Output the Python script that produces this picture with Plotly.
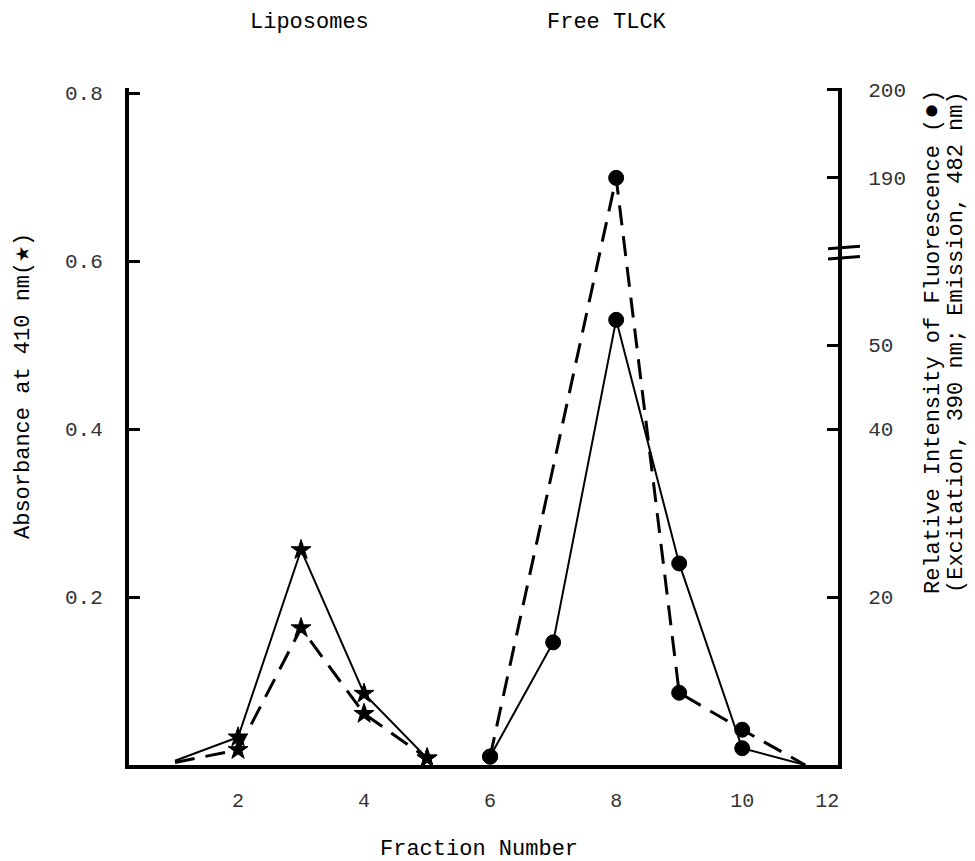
import plotly.graph_objects as go

# ---------------- data ----------------
fractions_star = [1, 2, 3, 4, 5]
abs_solid = [0.005, 0.033, 0.256, 0.085, 0.008]
abs_dashed = [0.003, 0.018, 0.163, 0.061, 0.008]

fractions_fl_solid = [6, 7, 8, 9, 10, 11]
fl_solid = [1, 14.6, 53, 24, 2, 0]
fractions_fl_dashed = [6, 8, 9, 10, 11]
fl_dashed = [1, 190, 8.6, 4.2, 0]

x_tick_text = ["2", "4", "6", "8", "10", "12"]
x_tick_vals = [2, 4, 6, 8, 10, 11.35]
left_tick_vals = [0.2, 0.4, 0.6, 0.8]
left_tick_text = ["0.2", "0.4", "0.6", "0.8"]
right_tick_vals = [20, 40, 50, 190, 200]
right_tick_text = ["20", "40", "50", "190", "200"]

# broken right axis: lower segment linear, upper segment (190-200) shifted down
BREAK_LIMIT = 60
UPPER_BASE = 190
UPPER_BASE_POS = 69.9
UPPER_SCALE = 1.048
BREAK_MARK = 61.0


def fl_axis(v):
    return v if v <= BREAK_LIMIT else UPPER_BASE_POS + (v - UPPER_BASE) * UPPER_SCALE


FONT = "Liberation Mono, Courier New, monospace"

STAR = dict(symbol="star", color="black", opacity=1, line=dict(color="black", width=1))
CIRC = dict(symbol="circle", color="black", opacity=1, line=dict(color="black", width=1))

fig = go.Figure()

# absorbance (stars)
fig.add_trace(go.Scatter(
    x=fractions_star, y=abs_solid, mode="lines+markers",
    line=dict(color="black", width=2),
    marker=dict(size=[0, 15, 15, 15, 15], **STAR),
    yaxis="y", showlegend=False))
fig.add_trace(go.Scatter(
    x=fractions_star, y=abs_dashed, mode="lines+markers",
    line=dict(color="black", width=3, dash="20px,11px"),
    marker=dict(size=[0, 15, 15, 15, 15], **STAR),
    yaxis="y", showlegend=False))

# fluorescence (circles)
fig.add_trace(go.Scatter(
    x=fractions_fl_solid, y=[fl_axis(v) for v in fl_solid], mode="lines+markers",
    line=dict(color="black", width=2),
    marker=dict(size=[15, 15, 15, 15, 15, 0], **CIRC),
    yaxis="y2", showlegend=False))
fig.add_trace(go.Scatter(
    x=fractions_fl_dashed, y=[fl_axis(v) for v in fl_dashed], mode="lines+markers",
    line=dict(color="black", width=3, dash="20px,11px"),
    marker=dict(size=[15, 15, 15, 15, 0], **CIRC),
    yaxis="y2", showlegend=False))

fig.update_layout(
    width=975, height=861,
    margin=dict(l=129, r=137, t=88, b=96),
    paper_bgcolor="white", plot_bgcolor="white",
    font=dict(family=FONT, color="black"),
    xaxis=dict(
        range=[0.27, 11.52], showgrid=False, zeroline=False,
        showline=True, linecolor="black", linewidth=4,
        tickmode="array", tickvals=x_tick_vals, ticktext=x_tick_text,
        ticks="", ticklabelstandoff=14,
        tickfont=dict(family=FONT, size=20, color="#333")),
    yaxis=dict(
        range=[0, 0.806], showgrid=False, zeroline=False,
        showline=True, linecolor="black", linewidth=4,
        tickmode="array", tickvals=left_tick_vals, ticktext=left_tick_text,
        ticks="inside", ticklen=11, tickwidth=3, tickcolor="black",
        ticklabelstandoff=18,
        tickfont=dict(family=FONT, size=21, color="#333")),
    yaxis2=dict(
        range=[0, 80.6], overlaying="y", side="right",
        showgrid=False, zeroline=False,
        showline=True, linecolor="black", linewidth=4,
        tickmode="array", tickvals=[fl_axis(v) for v in right_tick_vals],
        ticktext=right_tick_text,
        ticks="inside", ticklen=11, tickwidth=3, tickcolor="black",
        ticklabelstandoff=22,
        tickfont=dict(family=FONT, size=21, color="#333")),
)

# axis break mark on right axis
for off in (-0.6, 0.6):
    fig.add_shape(type="line", xref="paper", yref="y2",
                  x0=0.986, x1=1.031, y0=BREAK_MARK + off - 0.15, y1=BREAK_MARK + off + 0.15,
                  line=dict(color="black", width=3))

anns = [
    dict(text="Liposomes", x=309, y=22),
    dict(text="Free TLCK", x=607, y=22),
    dict(text="Fraction Number", x=479, y=849),
]
for a in anns:
    fig.add_annotation(text=a["text"], xref="paper", yref="paper",
                       x=(a["x"] - 129) / 709, y=1 - (a["y"] - 88) / 677,
                       xanchor="center", yanchor="middle", showarrow=False,
                       font=dict(family=FONT, size=22, color="black"))

side_titles = [
    dict(text="Absorbance at 410 nm(<span style='font-size:26px'>★</span>)", x=22, y=386),
    dict(text="Relative Intensity of Fluorescence (<span style='font-size:26px'>●</span>)", x=932, y=342),
    dict(text="(Excitation, 390 nm; Emission, 482 nm)", x=956, y=342),
]
for a in side_titles:
    fig.add_annotation(text=a["text"], xref="paper", yref="paper",
                       x=(a["x"] - 129) / 709, y=1 - (a["y"] - 88) / 677,
                       xanchor="center", yanchor="middle", showarrow=False,
                       textangle=-90,
                       font=dict(family=FONT, size=22, color="black"))

fig.write_html("out.html")
